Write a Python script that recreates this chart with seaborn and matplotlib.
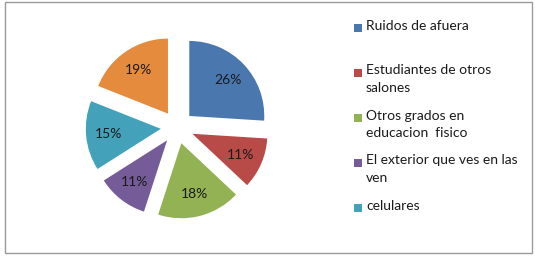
import numpy as np
import matplotlib
matplotlib.use("Agg")
import matplotlib.pyplot as plt
from matplotlib.patches import Rectangle
import seaborn as sns

# data
categorias = ["Ruidos de afuera", "Estudiantes de otros\nsalones", "Otros grados en\neducacion  fisico",
              "El exterior que ves en las\nven", "celulares", "Otros"]
porcentajes = [26, 11, 18, 11, 15, 19]
colores = ["#4A78AE", "#B84A48", "#93B254", "#765B99", "#44A1BA", "#E58B3E"]
n_leyenda = 5  # only five entries fit in the legend box

sns.set_theme(style="white")
plt.rcParams['font.family'] = ['Lato', 'DejaVu Sans']

W, H = 543, 267
fig = plt.figure(figsize=(W / 100, H / 100), dpi=100)
fig.patch.set_facecolor("white")

# outer chart border
fig.patches.append(Rectangle((5 / W, 1 - 253 / H), (532 - 5) / W, (253 - 2) / H,
                             transform=fig.transFigure, fill=False,
                             edgecolor="#9A9A9A", linewidth=1.0))

ax = fig.add_axes([83.5 / W, (H - 221) / H, 187.5 / W, 187.5 / H])
pal = sns.color_palette(colores)
wedges, texts, autotexts = ax.pie(porcentajes, colors=pal, explode=[0.22] * len(porcentajes),
                                  startangle=90, counterclock=False,
                                  autopct='%1.0f%%', pctdistance=0.7,
                                  textprops=dict(fontsize=10, color="#1a1a1a"),
                                  wedgeprops=dict(linewidth=0))

# legend drawn as Excel does: marker on first line, even pitch
for i in range(n_leyenda):
    y = 28 + 45 * i
    fig.patches.append(Rectangle((354 / W, 1 - (y + 4) / H), 8 / W, 8 / H,
                                 transform=fig.transFigure, facecolor=pal[i], edgecolor="none"))
    fig.text(366 / W, 1 - (y - 8.5) / H, categorias[i], fontsize=10, va="top", ha="left",
             color="#1a1a1a", linespacing=1.55)

plt.savefig("out.png", dpi=100)
